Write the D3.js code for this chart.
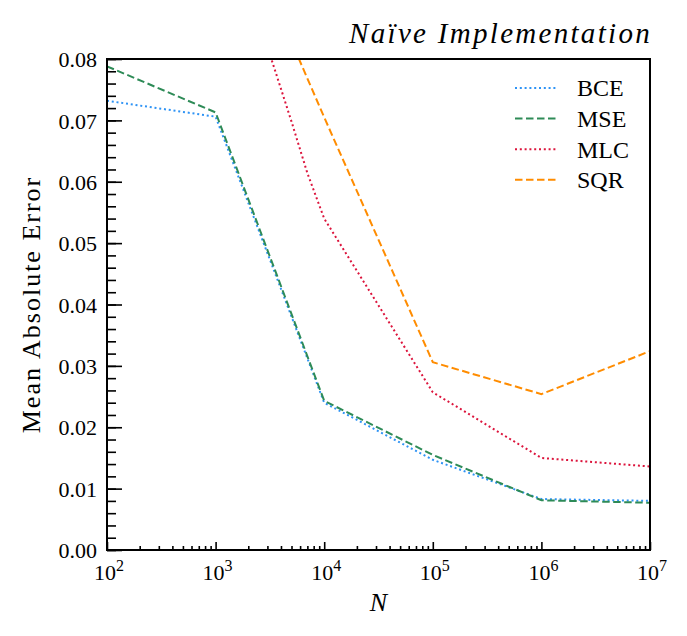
<!DOCTYPE html>
<html>
<head>
<meta charset="utf-8">
<script src="https://cdn.jsdelivr.net/npm/d3@7"></script>
<style>
  body { margin: 0; background: #fff; }
  text { font-family: "Liberation Serif", "DejaVu Serif", serif; fill: #000; }
</style>
</head>
<body>
<div id="chart"></div>
<script>
// values
var nValues = [1e2, 1e3, 1e4, 1e5, 1e6, 1e7];
var bceValues = [0.0732, 0.0706, 0.0240, 0.0147, 0.0083, 0.0080];
var mseValues = [0.0788, 0.0713, 0.0243, 0.0155, 0.0081, 0.0077];
var mlcN = [3e3, 5e3, 7e3, 1e4, 1e5, 1e6, 1e7];
var mlcValues = [0.0820, 0.0698, 0.0614, 0.0540, 0.0257, 0.0150, 0.0136];
var sqrN = [1e3, 1e4, 1e5, 1e6, 1e7];
var sqrValues = [0.1114, 0.0705, 0.0306, 0.0254, 0.0324];
var yTicks = [0, 0.01, 0.02, 0.03, 0.04, 0.05, 0.06, 0.07, 0.08];
var xTicks = [1e2, 1e3, 1e4, 1e5, 1e6, 1e7];

var series = [
  { name: "BCE", n: nValues, v: bceValues, color: "#2e93f5", dash: "2,2.8" },
  { name: "MSE", n: nValues, v: mseValues, color: "#2e8b57", dash: "7.5,3.5" },
  { name: "MLC", n: mlcN, v: mlcValues, color: "#dc143c", dash: "2,2.8" },
  { name: "SQR", n: sqrN, v: sqrValues, color: "#ff8c00", dash: "7.5,3.5" }
];

var w = 687;
var h = 636;
var mLeft = 107, mRight = 650, mTop = 59, mBottom = 550;

var svg = d3.select("#chart").append("svg")
  .attr("width", w)
  .attr("height", h);

var xScale = d3.scaleLog().domain([1e2, 1e7]).range([mLeft, mRight]);
var yScale = d3.scaleLinear().domain([0, 0.08]).range([mBottom, mTop]);

svg.append("clipPath").attr("id", "clip")
  .append("rect")
  .attr("x", mLeft).attr("y", mTop)
  .attr("width", mRight - mLeft).attr("height", mBottom - mTop);

var line = d3.line()
  .x(function(d) { return xScale(d[0]); })
  .y(function(d) { return yScale(d[1]); });

var plot = svg.append("g").attr("clip-path", "url(#clip)");
series.forEach(function(s) {
  plot.append("path")
    .datum(s.n.map(function(n, i) { return [n, s.v[i]]; }))
    .attr("d", line)
    .attr("fill", "none")
    .attr("stroke", s.color)
    .attr("stroke-width", 2)
    .attr("stroke-dasharray", s.dash);
});

// minor ticks
var yMinor = d3.range(0, 0.0801, 0.002);
var xMinor = [];
for (var e = 2; e < 7; e++) {
  for (var k = 2; k < 10; k++) xMinor.push(k * Math.pow(10, e));
}

var xAxis = d3.axisBottom(xScale).tickValues(xTicks).tickSize(-8).tickFormat("");
var xAxisMinor = d3.axisBottom(xScale).tickValues(xMinor).tickSize(-4).tickFormat("");
var yAxis = d3.axisLeft(yScale).tickValues(yTicks).tickSize(-15)
  .tickFormat(d3.format(".2f")).tickPadding(10);
var yAxisMinor = d3.axisLeft(yScale).tickValues(yMinor).tickSize(-9).tickFormat("");

[
  svg.append("g").attr("transform", "translate(0," + mBottom + ")").call(xAxisMinor),
  svg.append("g").attr("transform", "translate(0," + mBottom + ")").call(xAxis),
  svg.append("g").attr("transform", "translate(" + mLeft + ",0)").call(yAxisMinor),
  svg.append("g").attr("class", "yAxis").attr("transform", "translate(" + mLeft + ",0)").call(yAxis)
].forEach(function(g) {
  g.select(".domain").remove();
  g.attr("font-family", null);
  g.selectAll("line").attr("stroke", "#000").attr("stroke-width", 1.6);
});

svg.select(".yAxis").selectAll("text")
  .attr("font-size", 22)
  .attr("fill", "#000")
  .attr("dy", "0.35em");

// x tick labels as 10^k
xTicks.forEach(function(t) {
  var lbl = svg.append("text")
    .attr("x", xScale(t) + 2)
    .attr("y", 580)
    .attr("text-anchor", "middle")
    .attr("font-size", 22);
  lbl.append("tspan").text("10");
  lbl.append("tspan")
    .attr("dy", -9)
    .attr("font-size", 16)
    .text(String(Math.round(Math.log10(t))));
});

// frame
svg.append("rect")
  .attr("x", mLeft).attr("y", mTop)
  .attr("width", mRight - mLeft).attr("height", mBottom - mTop)
  .attr("fill", "none")
  .attr("stroke", "#000")
  .attr("stroke-width", 2);

// title and axis labels
svg.append("text")
  .attr("x", mRight + 2)
  .attr("y", 43)
  .attr("text-anchor", "end")
  .attr("font-size", 29)
  .attr("font-style", "italic")
  .attr("letter-spacing", 2.3)
  .text("Naïve Implementation");

svg.append("text")
  .attr("x", (mLeft + mRight) / 2)
  .attr("y", 611)
  .attr("text-anchor", "middle")
  .attr("font-size", 26)
  .attr("font-style", "italic")
  .text("N");

svg.append("text")
  .attr("transform", "translate(40," + (mTop + mBottom) / 2 + ")rotate(-90)")
  .attr("text-anchor", "middle")
  .attr("font-size", 26)
  .attr("letter-spacing", 2)
  .text("Mean Absolute Error");

// legend
var legend = svg.append("g").attr("class", "legend");
series.forEach(function(s, i) {
  var y = 88 + i * 30.6;
  legend.append("line")
    .attr("x1", 515).attr("x2", 558)
    .attr("y1", y).attr("y2", y)
    .attr("stroke", s.color)
    .attr("stroke-width", 2)
    .attr("stroke-dasharray", s.dash);
  legend.append("text")
    .attr("x", 577)
    .attr("y", y)
    .attr("dy", "0.35em")
    .attr("font-size", 24)
    .text(s.name);
});
</script>
</body>
</html>
